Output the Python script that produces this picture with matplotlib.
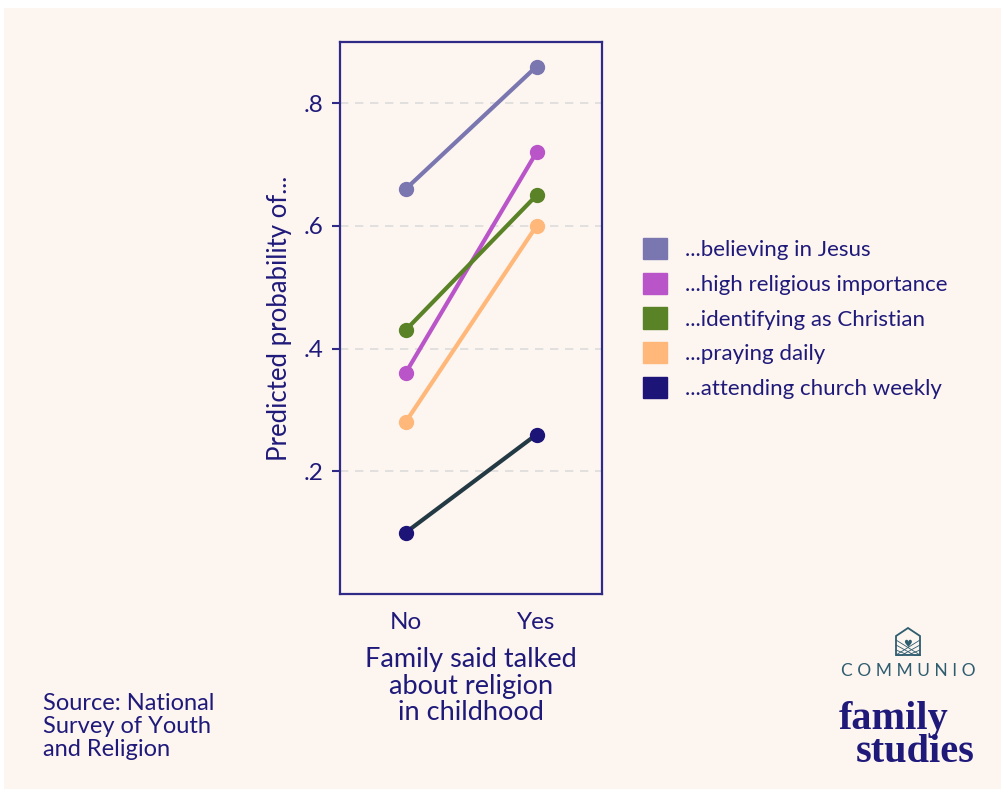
import matplotlib
matplotlib.use("Agg")
import matplotlib.pyplot as plt
from matplotlib.patches import Rectangle, Polygon, Patch
import numpy as np

# --- data -------------------------------------------------------------
groups = ["No", "Yes"]
series_names = [
    "...believing in Jesus",
    "...high religious importance",
    "...identifying as Christian",
    "...praying daily",
    "...attending church weekly",
]
believing_jesus = [0.66, 0.86]
high_importance = [0.36, 0.72]
identifying_christian = [0.43, 0.65]
praying_daily = [0.28, 0.60]
attending_weekly = [0.10, 0.26]
y_ticks = [0.2, 0.4, 0.6, 0.8]
y_tick_labels = [".2", ".4", ".6", ".8"]

series_values = [believing_jesus, high_importance, identifying_christian,
                 praying_daily, attending_weekly]
marker_colors = ["#7a76b0", "#b955c8", "#5a8226", "#ffb87a", "#1c1477"]
line_colors = ["#7a76b0", "#b955c8", "#5a8226", "#ffb87a", "#233a45"]

NAVY = "#1f1a7a"
BG = "#fdf5f0"
FONT = "Lato"

W, H = 1001, 789
fig = plt.figure(figsize=(W / 100, H / 100), dpi=100, facecolor="white")

# cream panel behind everything
fig.patches.append(Rectangle((4 / W, 0), 1 - 4 / W, 1 - 8 / H,
                             transform=fig.transFigure, facecolor=BG,
                             edgecolor="none", zorder=-10))

def px_axes(x0, y0, x1, y1):
    return [x0 / W, 1 - y1 / H, (x1 - x0) / W, (y1 - y0) / H]

ax = fig.add_axes(px_axes(340, 42, 602, 594))
ax.set_facecolor(BG)

x = np.arange(len(groups))
for vals, mc, lc, name in zip(series_values, marker_colors, line_colors, series_names):
    ax.plot(x, vals, color=lc, lw=3, solid_capstyle="round", zorder=3)
    ax.plot(x, vals, "o", color=mc, ms=10, zorder=4, label=name)

ax.set_xlim(-0.5, 1.5)
ax.set_ylim(0.0, 0.9)
ax.set_yticks(y_ticks)
ax.set_yticklabels(y_tick_labels)
ax.set_xticks(x)
ax.set_xticklabels(groups)

for yv in y_ticks:
    ax.axhline(yv, color="#dcdcdc", lw=1.2, ls=(0, (5, 4)), zorder=1)

for sp in ax.spines.values():
    sp.set_color("#2e2a86")
    sp.set_linewidth(1.6)

ax.tick_params(axis="y", direction="out", length=6, width=1.5, color="#2e2a86",
               labelcolor=NAVY, labelsize=17.5, pad=6)
ax.tick_params(axis="x", length=0, labelcolor=NAVY, labelsize=17.5, pad=13)
for lab in ax.get_xticklabels() + ax.get_yticklabels():
    lab.set_fontfamily(FONT)

ax.set_ylabel("Predicted probability of...", fontsize=18.5, color=NAVY,
              fontfamily=FONT, labelpad=8)
ax.set_xlabel("Family said talked\nabout religion\nin childhood", fontsize=19.5,
              color=NAVY, fontfamily=FONT, linespacing=1.08, labelpad=10)

# legend with square swatches
handles = [Patch(facecolor=c, edgecolor=c) for c in marker_colors]
leg = fig.legend(handles, series_names, loc="upper left",
                 bbox_to_anchor=(643 / W, 1 - 238 / H), frameon=False,
                 prop={"family": FONT, "size": 16}, handlelength=1.1,
                 handleheight=1.1, labelspacing=0.56, handletextpad=0.8,
                 borderaxespad=0, borderpad=0)
for t in leg.get_texts():
    t.set_color(NAVY)

# source note
fig.text(43 / W, 1 - 693 / H, "Source: National\nSurvey of Youth\nand Religion",
         fontsize=17, color=NAVY, fontfamily=FONT, va="top", ha="left",
         linespacing=1.12)

# Communio / family studies mark
teal = "#2f5d70"
lax = fig.add_axes([0, 0, 1, 1], facecolor="none")
lax.set_xlim(0, W)
lax.set_ylim(H, 0)
lax.axis("off")
house = [(896, 655), (896, 636), (908, 628), (920, 636), (920, 655)]
lax.add_patch(Polygon(house, closed=True, fill=False, edgecolor=teal, lw=1.3))
for k in range(4):
    lax.plot([896, 920 - k * 6], [640 + k * 5, 655], color=teal, lw=0.6)
    lax.plot([920, 896 + k * 6], [640 + k * 5, 655], color=teal, lw=0.6)
lax.text(908, 644, "\u2665", fontsize=7, color=teal, ha="center", va="center",
         fontfamily="DejaVu Sans")
lax.text(908, 671, "C O M M U N I O", fontsize=12.5, color=teal, ha="center",
         va="center", fontfamily=FONT)
lax.text(894, 729, "family", fontsize=29, color=NAVY, ha="center", va="baseline",
         fontfamily="Liberation Serif", fontweight="bold")
lax.text(915, 762, "studies", fontsize=29, color=NAVY, ha="center", va="baseline",
         fontfamily="Liberation Serif", fontweight="bold")

fig.savefig("out.png", dpi=100, facecolor="white")
